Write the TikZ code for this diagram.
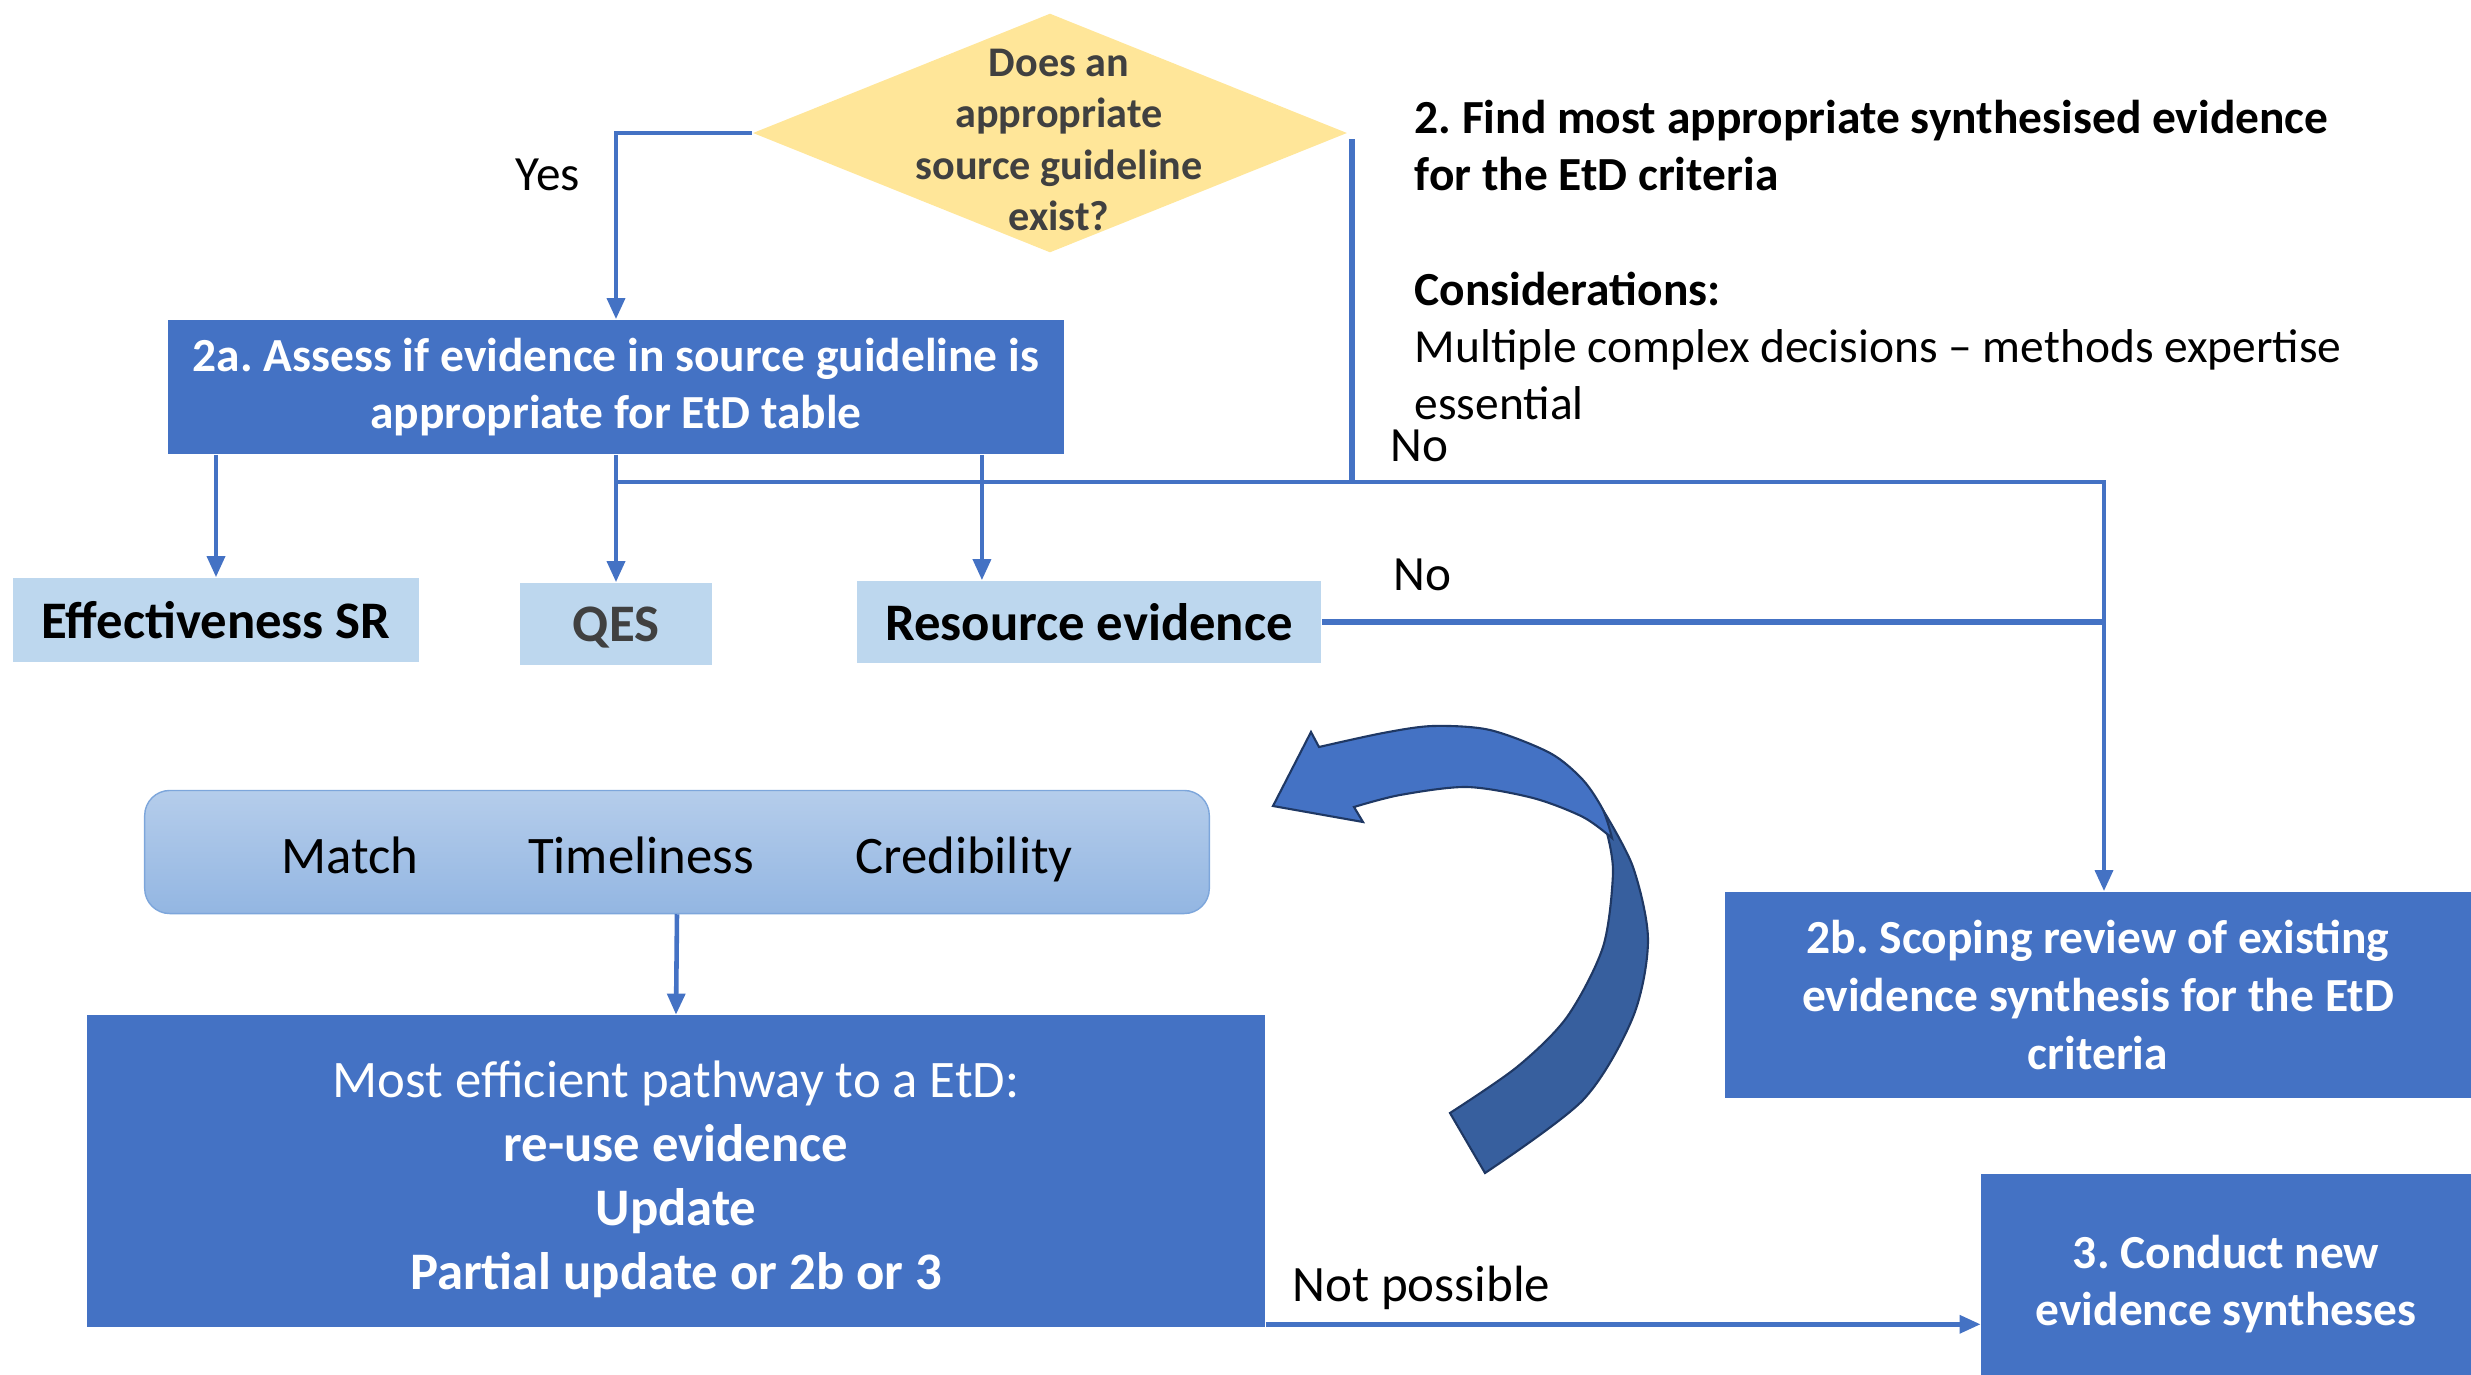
\documentclass[tikz,border=0pt]{standalone}
\usepackage{fontspec}
\setmainfont{Carlito}
\usetikzlibrary{shapes.geometric, arrows.meta}
\definecolor{boxblue}{HTML}{4472C4}
\definecolor{paleblue}{HTML}{BDD7EE}
\definecolor{gold}{HTML}{FFE699}
\definecolor{darkgrey}{HTML}{404040}
\definecolor{arcdark}{HTML}{375F9E}
\definecolor{arcline}{HTML}{1F3864}
\definecolor{critline}{HTML}{7DA6DB}
\definecolor{crittop}{HTML}{B5CDEB}
\definecolor{critbottom}{HTML}{93B6E2}
\frenchspacing
\begin{document}
\begin{tikzpicture}[x=0.01cm, y=-0.01cm,
  darkbox/.style={fill=boxblue, text=white, inner sep=0pt, align=center, font=\fontsize{13.5}{16.4}\selectfont\bfseries},
  lightbox/.style={fill=paleblue, inner sep=0pt, font=\fontsize{15}{18}\selectfont\bfseries},
  flow/.style={draw=boxblue, line width=1.3pt, arrows=-{Triangle[length=6pt, width=5pt]}},
  link/.style={draw=boxblue, line width=1.5pt},
  answer/.style={inner sep=0pt, anchor=base west, font=\fontsize{14}{16.8}\selectfont}]
\useasboundingbox (0,0) rectangle (2471,1375);
\node  (q)[diamond, fill=gold, inner sep=0pt, minimum width=5.94cm, minimum height=2.39cm] at (1050,133) {};
\node  (qt)[align=center, text=darkgrey, font=\fontsize{12}{14.6}\selectfont\bfseries] at (1059,140) {Does an\\appropriate\\source guideline\\exist?};
\node  (2a)[darkbox, minimum width=8.95cm, minimum height=1.34cm] at (616,387) {2a. Assess if evidence in source guideline is\\appropriate for EtD table};
\node  (esr)[lightbox, minimum width=4.06cm, minimum height=0.84cm] at (216,620) {Effectiveness SR};
\node  (qes)[lightbox, text=darkgrey, text depth=0pt, minimum width=1.92cm, minimum height=0.82cm] at (616,624) {QES};
\node  (res)[lightbox, minimum width=4.64cm, minimum height=0.82cm] at (1089,622) {Resource evidence};
\node  (crit)[rounded corners=0.25cm, draw=critline, top color=crittop, bottom color=critbottom, inner sep=0pt, minimum width=10.64cm, minimum height=1.23cm] at (677,852) {};
\node  (m1)[anchor=base, font=\fontsize{15}{18}\selectfont] at (350,873) {Match};
\node  (m2)[anchor=base, font=\fontsize{15}{18}\selectfont] at (641,873) {Timeliness};
\node  (m3)[anchor=base, font=\fontsize{15}{18}\selectfont] at (964,873) {Credibility};
\node  (path)[darkbox, minimum width=11.77cm, minimum height=3.11cm] at (676,1171) {};
\node  (pt)[align=center, text=white, font=\fontsize{15}{18.2}\selectfont] at (676,1179) {Most efficient pathway to a EtD:\\ \textbf{re-use evidence}\\ \textbf{Update}\\ \textbf{Partial update or 2b or 3}};
\node  (2b)[darkbox, minimum width=7.45cm, minimum height=2.06cm] at (2098,995) {2b. Scoping review of existing\\evidence synthesis for the EtD\\criteria};
\node  (3)[darkbox, minimum width=4.89cm, minimum height=2.2cm] at (2226,1284) {3. Conduct new\\evidence syntheses};
\node  (note)[anchor=north west, align=left, inner sep=0pt, font=\fontsize{13.5}{16.3}\selectfont] at (1414,99) {\textbf{2. Find most appropriate synthesised evidence}\\ \textbf{for the EtD criteria}\\[16.4pt] \textbf{Considerations:}\\ Multiple complex decisions – methods expertise\\ essential};
\node  (yes)[answer] at (515,190) {Yes};
\node  (no1)[answer] at (1390,461) {No};
\node  (no2)[answer] at (1393,590) {No};
\node  (np)[answer, font=\fontsize{14.5}{17}\selectfont] at (1292,1301) {Not possible};
\coordinate (jn) at (2104,482);
\draw[flow] (q.west) -| (2a.north);
\draw[link] ([xshift=0.04cm, yshift=-0.06cm]q.east) -- ([xshift=0.04cm]q.east |- jn);
\draw[flow] (esr.north |- 2a.south) -- (esr.north);
\draw[flow] (2a.south) -- (qes.north);
\draw[flow] ([xshift=-1.07cm]res.north |- 2a.south) -- ([xshift=-1.07cm]res.north);
\draw[flow] (qes.north |- jn) -- (jn) -- (jn |- 2b.north);
\draw[link] (res.east) -- (res.east -| jn);
\draw[flow] (crit.south) -- (path.north);
\draw[flow] ([yshift=0.03cm]path.south east) -- ([yshift=0.03cm]path.south east -| 3.west);
\filldraw[fill=arcdark, draw=arcline, line width=0.6pt] plot[smooth] coordinates {(1603,810) (1633,867) (1648,940) (1633,1017) (1583,1100) (1485,1173)} -- (1450,1113) -- plot[smooth] coordinates {(1450,1113) (1517,1067) (1567,1017) (1603,947) (1613,873) (1607,833)} -- cycle;
\filldraw[fill=boxblue, draw=arcline, line width=0.6pt] (1273,806) -- (1311,732) -- (1319,747) -- plot[smooth] coordinates {(1319,747) (1383,733) (1433,726) (1490,730) (1550,753) (1583,780) (1603,810) (1612,838)} -- plot[smooth] coordinates {(1612,838) (1583,817) (1533,798) (1467,787) (1400,795) (1354,807)} -- (1363,822) -- cycle;
\end{tikzpicture}
\end{document}
